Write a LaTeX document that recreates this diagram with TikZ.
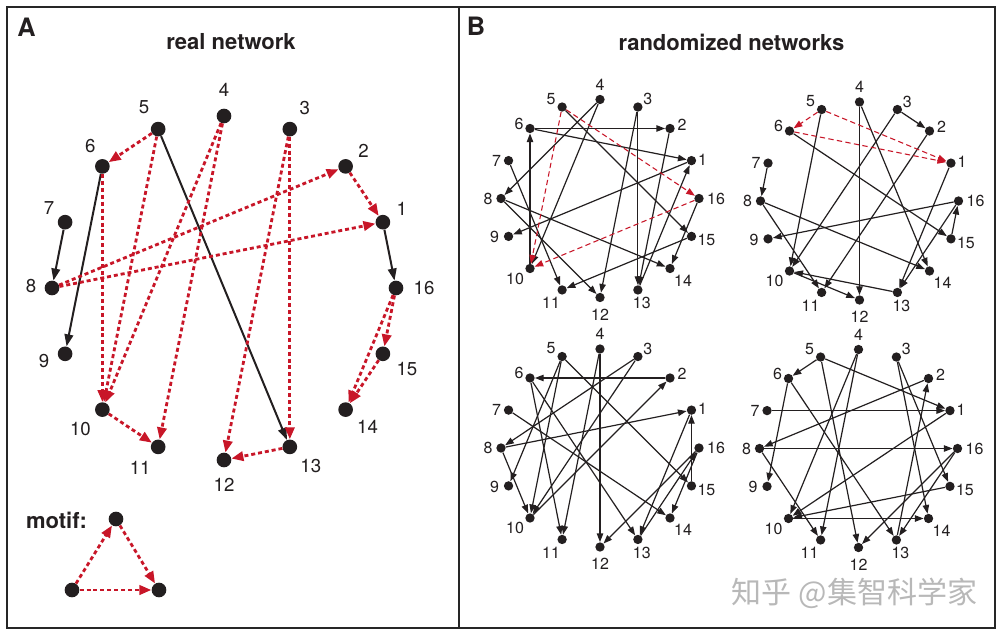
\documentclass[tikz,border=0pt]{standalone}
\usepackage{fontspec}
\setmainfont{TeX Gyre Heros}
\newfontfamily\cjk{Noto Sans CJK SC}
\usetikzlibrary{arrows.meta}
\definecolor{ink}{HTML}{231F20}
\definecolor{redd}{RGB}{200,22,40}
\tikzset{
 dotA/.style={circle,fill=ink,inner sep=0pt,minimum size=11pt},
 dotB/.style={circle,fill=ink,inner sep=0pt,minimum size=7pt},
 numA/.style={font=\fontsize{14}{16}\selectfont,text=ink,inner sep=0pt},
 numB/.style={font=\fontsize{12}{14}\selectfont,text=ink,inner sep=0pt},
 ttl/.style={font=\bfseries\fontsize{16.5}{18}\selectfont,text=ink,inner sep=0pt},
 panel/.style={font=\bfseries\fontsize{19}{21}\selectfont,text=ink,inner sep=0pt},
 solA/.style={draw=ink,line width=1.5pt,-{Triangle[length=9pt,width=6.5pt]}},
 redA/.style={draw=redd,line width=2.1pt,dash pattern=on 3pt off 2.2pt,-{Triangle[length=9pt,width=7pt]}},
 solB/.style={draw=ink,line width=0.9pt,-{Triangle[length=6.5pt,width=4.8pt]}},
 redB/.style={draw=redd,line width=0.8pt,dash pattern=on 4pt off 2.5pt,-{Triangle[length=6.5pt,width=4.8pt]}},
}
\newcommand\mynetnodes[3]{%
  \foreach \k/\lx/\ly in {1/11/-1,2/12/-4,3/10/-8,4/0/-15,5/-11/-8,6/-11/-5,7/-12/0,8/-13/0,9/-14/1,10/-15/10,11/-11/13,12/0/17,13/4/13,14/13/12,15/15/4,16/17/0}{
    \node[dotB] (#1\k) at ({#2+99*cos(\k*22.5)},{#3-99*sin(\k*22.5)}) {};
    \node[numB] (#1\k l) at ([shift={(\lx,\ly)}]#1\k) {\k};
  }%
}
\begin{document}
\begin{tikzpicture}[x=0.75pt,y=-0.75pt]
\useasboundingbox (0,0) rectangle (1002,634);
\fill[white] (0,0) rectangle (1002,634);
\draw[line width=1.6pt,draw=black!85] (7,7) rectangle (995,628);
\draw[line width=1.6pt,draw=black!85] (459,7) -- (459,628);
\node[panel] (pA) at (26.5,27.5) {A};
\node[panel] (pB) at (476,26) {B};
\node[ttl] (tA) at (231,41.5) {real network};
\node[ttl] (tB) at (731.5,42.5) {randomized networks};
% panel A
\foreach \k/\lx/\ly in {1/19/-13,2/18/-15,3/15/-21,4/0/-26,5/-14/-22,6/-12/-20,7/-16/-14,8/-21/-2,9/-21/7,10/-22/19,11/-18/21,12/0/25,13/21/19,14/22/17,15/24/15,16/28/0}{
  \node[dotA] (A\k) at ({224+172*cos(\k*22.5)},{288-172*sin(\k*22.5)}) {};
  \node[numA] (A\k l) at ([shift={(\lx,\ly)}]A\k) {\k};
}
\foreach \s/\t in {5/13,6/9,7/8,1/16} \draw[solA] (A\s) -- (A\t);
\foreach \s/\t in {5/6,5/10,4/10,4/11,3/12,3/13,6/10,2/1,8/2,8/1,16/15,16/14,15/14,10/11,13/12} \draw[redA] (A\s) -- (A\t);
% motif
\node[ttl] (mt) at (56.5,520) {motif:};
\node[dotA] (mT) at (116,519) {};
\node[dotA] (mL) at (72,590) {};
\node[dotA] (mR) at (159,590) {};
\draw[redA] (mL) -- (mT);
\draw[redA] (mT) -- (mR);
\draw[redA] (mL) -- (mR);
% panel B
\mynetnodes{P}{600}{198.5}
\mynetnodes{Q}{859.5}{201}
\mynetnodes{R}{600}{448}
\mynetnodes{S}{858.5}{448.5}
\foreach \s/\t in {6/2,6/1,10/6,4/8,4/10,5/15,3/12,3/13,2/13,13/1,1/9,7/11,8/12,8/14,15/11,16/14} \draw[solB] (P\s) -- (P\t);
\foreach \s/\t in {5/10,5/16,16/10} \draw[redB] (P\s) -- (P\t);
\foreach \s/\t in {5/10,4/12,4/14,3/2,3/10,2/11,6/15,7/8,8/11,8/14,1/13,16/13,16/9,15/16,13/10,10/12} \draw[solB] (Q\s) -- (Q\t);
\foreach \s/\t in {5/6,5/1,6/1} \draw[redB] (Q\s) -- (Q\t);
\foreach \s/\t in {2/6,5/9,5/10,5/15,4/12,4/11,3/8,3/10,10/2,6/11,6/13,7/14,8/1,8/10,15/1,1/13,16/12,16/14,13/16} \draw[solB] (R\s) -- (R\t);
\foreach \s/\t in {5/6,5/1,5/12,4/10,4/11,3/14,3/15,6/9,6/13,2/8,7/1,8/16,8/11,1/10,16/12,16/13,15/10,10/14,13/2} \draw[solB] (S\s) -- (S\t);
% watermark
\node[font=\cjk\fontsize{22.5}{26}\selectfont,text=black!28,inner sep=0pt] (wm) at (854.5,593) {知乎 @集智科学家};
\end{tikzpicture}
\end{document}
